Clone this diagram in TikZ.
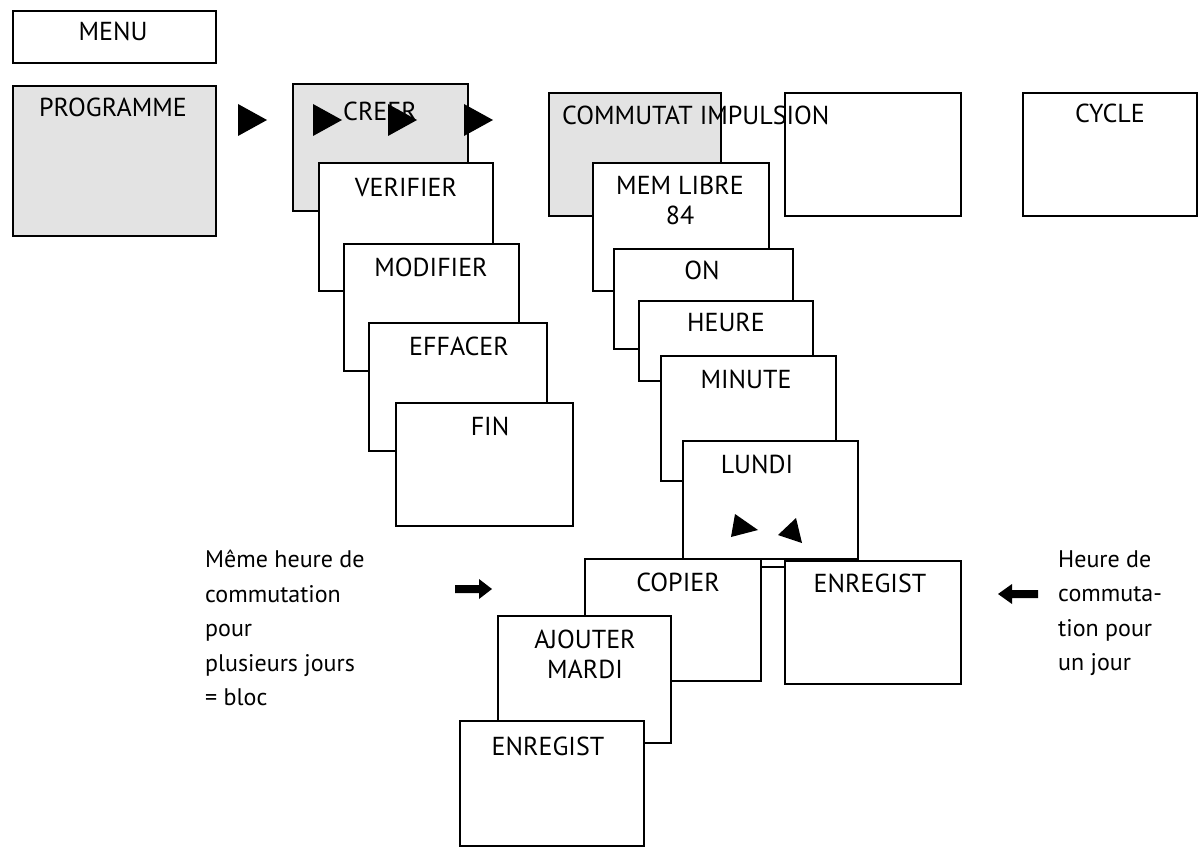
\documentclass[tikz,border=0pt]{standalone}
\usepackage{fontspec}
\setmainfont{PT Sans}
\usetikzlibrary{positioning}

\begin{document}
\begin{tikzpicture}[
		x = 1pt, y = -1pt,
		font = \fontsize{26}{30}\selectfont,
		screen/.style = {draw, line width = 1.6pt, fill = white, anchor = north west, inner sep = 0pt},
		active/.style = {screen, fill = gray!22},
		caption/.style = {anchor = north, inner sep = 0pt},
		note/.style = {anchor = north west, align = left, inner sep = 0pt, font = \fontsize{24}{34.5}\selectfont},
		tri/.style = {fill = black}
	]
	\useasboundingbox (0,0) rectangle (1204,853);
	% menu column
	\node[screen, minimum width = 203, minimum height = 52] (menu) at (12,10) {};
	\node[caption] (menu-t) at (113,22) {MENU};
	\node[active, minimum width = 203, minimum height = 150] (prog) at (12,85) {};
	\node[caption] (prog-t) at (113,98) {PROGRAMME};
	% programme stack
	\node[active, minimum width = 175, minimum height = 127] (creer) at (292,83) {};
	\node[caption] (creer-t) at (380,102) {CREER};
	\node[screen, minimum width = 174, minimum height = 128] (verif) at (318,162) {};
	\node[caption] (verif-t) at (406,178) {VERIFIER};
	\node[screen, minimum width = 175, minimum height = 127] (modif) at (343,243) {};
	\node[caption] (modif-t) at (431,258) {MODIFIER};
	\node[screen, minimum width = 178, minimum height = 128] (effac) at (368,322) {};
	\node[caption] (effac-t) at (459,337) {EFFACER};
	\node[screen, minimum width = 177, minimum height = 123] (fin) at (395,402) {};
	\node[caption] (fin-t) at (490,417) {FIN};
	% creer stack
	\node[active, minimum width = 172, minimum height = 123] (commut) at (548,92) {};
	\node[screen, minimum width = 176, minimum height = 123] (impul) at (784,92) {};
	\node[anchor = north west, inner sep = 0pt] (commut-t) at (562,106) {COMMUTAT IMPULSION};
	\node[screen, minimum width = 174, minimum height = 123] (cycle) at (1022,92) {};
	\node[caption] (cycle-t) at (1110,104) {CYCLE};
	\node[screen, minimum width = 176, minimum height = 128] (mem) at (592,162) {};
	\node[caption, align = center] (mem-t) at (680,176) {MEM LIBRE\\84};
	\node[screen, minimum width = 179, minimum height = 100] (on) at (613,248) {};
	\node[caption] (on-t) at (702,261) {ON};
	\node[screen, minimum width = 174, minimum height = 80] (heure) at (638,300) {};
	\node[caption] (heure-t) at (726,313) {HEURE};
	\node[screen, minimum width = 175, minimum height = 125] (minute) at (660,355) {};
	\node[caption] (minute-t) at (746,370) {MINUTE};
	\node[screen, minimum width = 175, minimum height = 118] (lundi) at (682,440) {};
	\node[caption] (lundi-t) at (757,455) {LUNDI};
	% lundi choices
	\node[screen, minimum width = 176, minimum height = 123] (enreg) at (784,560) {};
	\node[caption] (enreg-t) at (870,574) {ENREGIST};
	\node[screen, minimum width = 176, minimum height = 122] (copier) at (584,558) {};
	\node[caption] (copier-t) at (678,573) {COPIER};
	\draw[line width = 1.6pt] (copier.north east |- 0,567) -- (enreg.west |- 0,567);
	\node[screen, minimum width = 173, minimum height = 127] (ajout) at (497,615) {};
	\node[caption, align = center] (ajout-t) at (585,630) {AJOUTER\\MARDI};
	\node[screen, minimum width = 184, minimum height = 125] (enreg2) at (459,720) {};
	\node[caption] (enreg2-t) at (548,737) {ENREGIST};
	% triangles
	\foreach \tx in {238, 313, 388, 464}
		\fill[tri] (\tx,104) -- (\tx+29,120) -- (\tx,136) -- cycle;
	\fill[tri] (735,514) -- (758,530) -- (731,537) -- cycle;
	\fill[tri] (796,518) -- (802,543) -- (778,535) -- cycle;
	% notes
	\node[note] (left-n) at (205,550) {Même heure de\\commutation\\pour\\plusieurs jours\\= bloc};
	\node[note] (right-n) at (1058,550) {Heure de\\commuta-\\tion pour\\un jour};
	\fill[tri] (455,585) -- (479,585) -- (479,579) -- (492,589) -- (479,599) -- (479,593) -- (455,593) -- cycle;
	\fill[tri] (1038,590) -- (1012,590) -- (1012,584) -- (998,594) -- (1012,604) -- (1012,598) -- (1038,598) -- cycle;
\end{tikzpicture}
\end{document}
